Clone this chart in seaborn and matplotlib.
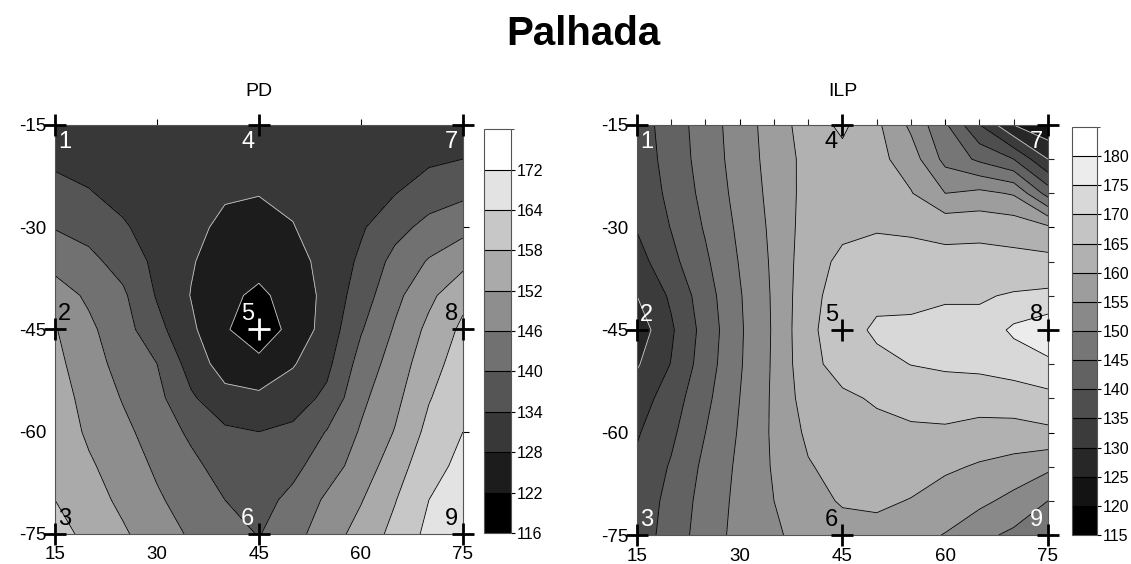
import numpy as np
import seaborn as sns
import matplotlib.pyplot as plt
from matplotlib.colors import ListedColormap, BoundaryNorm

xs = [15, 20, 25, 30, 35, 40, 45, 50, 55, 60, 65, 70, 75]
ys = [-15, -20, -25, -30, -35, -40, -45, -50, -55, -60, -65, -70, -75]

# PD surface, rows follow ys, columns follow xs
pd_grid = [
    [131, 131, 130.8, 130.5, 130.2, 130, 129.8, 130, 130.2, 130.5, 131, 131.5, 132],
    [133, 132.3, 131.5, 130.8, 130, 129.3, 129, 129.8, 130.5, 131.2, 132.2, 133, 134],
    [135.8, 134.3, 132.5, 131.2, 129.7, 128.5, 128.2, 129, 130.8, 132.2, 133.8, 137, 138.8],
    [139.7, 138, 134.6, 131.8, 129.2, 127, 126, 127.8, 130.5, 133.3, 137.9, 141.9, 144.1],
    [144, 141.5, 137.8, 132.5, 128.5, 125, 123.8, 125.8, 130, 135, 141.9, 146.5, 150.2],
    [148.8, 145, 141, 133.5, 127.8, 123.2, 121, 124, 129.8, 137, 144.4, 150.6, 156.4],
    [152.4, 147.2, 142.4, 135.9, 129.2, 122.6, 118.5, 123.8, 130.5, 139.5, 146.6, 153.5, 159.2],
    [153.6, 148.6, 143.8, 140, 131.6, 125.2, 123.5, 127.5, 132.5, 142.3, 148.6, 155.6, 160.9],
    [154.7, 150, 145.6, 141.7, 134.8, 130, 129.2, 131.2, 135.3, 144.6, 150.4, 157.6, 162.4],
    [155.8, 151, 147.4, 143.4, 138.9, 135, 134, 135.2, 140.3, 146.6, 152.3, 159.7, 164],
    [157, 152.8, 149.1, 145.1, 141.5, 137.5, 136.2, 138.4, 143.2, 148.6, 155.2, 161.9, 165.5],
    [158, 154.5, 150.7, 146.8, 143.4, 140, 138, 141.5, 147, 151.6, 157.7, 164, 166.8],
    [160, 156.6, 152.8, 148.8, 145.3, 142.6, 139.7, 144, 149, 154.3, 159.7, 165.5, 168],
]

# ILP surface
ilp_grid = [
    [137.5, 142.4, 147.5, 152.5, 157.3, 162.5, 166, 161, 154, 145.8, 135.2, 125, 121],
    [137, 142, 147.2, 152.2, 157, 161.6, 163.5, 161.5, 157.5, 148.5, 144, 140, 130],
    [136.3, 141.3, 146.5, 151.7, 156.6, 161.8, 163, 162.8, 160.3, 155, 156.3, 154.5, 143],
    [135.3, 140.2, 145.5, 151, 156.2, 162.3, 164, 164.7, 164.4, 163.5, 163.5, 163, 161],
    [133, 138.6, 144.2, 150.3, 155.9, 163, 166, 166.5, 166.5, 166.5, 166.8, 166.4, 166.5],
    [130, 135.8, 142.8, 149.6, 155.7, 163.6, 167, 168.5, 168.8, 169.4, 169.5, 170.5, 171],
    [127, 134.3, 142, 149.3, 155.6, 164, 167.5, 171, 171, 171.8, 171.5, 176, 178.5],
    [129.5, 135.2, 142.6, 149.5, 155.7, 163.6, 166.8, 168.5, 170.1, 170.7, 171, 172, 174],
    [132.5, 137.5, 143.8, 150, 155.8, 162.5, 164.2, 165.5, 166.7, 167.5, 167.5, 167.8, 168.5],
    [134.5, 139, 145, 150.5, 155.8, 161, 163, 163.8, 164.2, 164.2, 163, 163, 164],
    [136, 140.5, 146.2, 151, 155.5, 159.6, 161.8, 162.5, 162, 160.8, 159.5, 158.2, 156],
    [137, 141.5, 147, 151.3, 155, 158.2, 160.5, 160.8, 159.8, 157.7, 156.2, 153.5, 150],
    [137.5, 142, 147.6, 151.5, 154.3, 156.8, 158, 158.5, 156.5, 154.8, 151.3, 149, 147],
]

pd_levels = [116, 122, 128, 134, 140, 146, 152, 158, 164, 172, 178]
ilp_levels = [115, 120, 125, 130, 135, 140, 145, 150, 155, 160, 165, 170, 175, 180, 185]

# sampling points
pts_x = [15, 15, 15, 45, 45, 45, 75, 75, 75]
pts_y = [-15, -45, -75, -15, -45, -75, -15, -45, -75]
pts_lab = ['1', '2', '3', '4', '5', '6', '7', '8', '9']
pd_lab_col = ['white', 'black', 'black', 'white', 'white', 'white', 'white', 'black', 'black']
ilp_lab_col = ['white', 'white', 'white', 'black', 'black', 'black', 'white', 'black', 'white']
pd_cross_col = ['black', 'black', 'black', 'black', 'white', 'black', 'black', 'black', 'black']

sns.set_style("white")
plt.rcParams['font.family'] = ['Liberation Sans', 'DejaVu Sans']
plt.rcParams['text.color'] = 'black'
plt.rcParams['axes.unicode_minus'] = False

fig = plt.figure(figsize=(11.31, 5.64), dpi=100)

panels = [
    ("PD", pd_grid, pd_levels, pd_lab_col, pd_cross_col,
     [0.0486, 0.0532, 0.3607, 0.7252], [0.428, 0.055, 0.0239, 0.716], False),
    ("ILP", ilp_grid, ilp_levels, ilp_lab_col, ['black'] * 9,
     [0.5632, 0.0514, 0.3634, 0.727], [0.9478, 0.0514, 0.0221, 0.7234], True),
]

for name, grid, levels, lab_col, cross_col, rect, crect, minor in panels:
    ax = fig.add_axes(rect)
    cax = fig.add_axes(crect)
    n = len(levels) - 1
    shades = [i / (n - 1) for i in range(n)]
    cmap = ListedColormap([plt.cm.gray(s) for s in shades])
    norm = BoundaryNorm(levels, n)
    Z = np.array(grid)
    cf = ax.contourf(xs, ys, Z, levels=levels, cmap=cmap, norm=norm)
    # lines in the darkest bands come out light, as in the original
    line_cols = ['#c8c8c8' if s < 0.2 else 'black' for s in [0] + shades[:-1]]
    cs = ax.contour(xs, ys, Z, levels=levels[:-1], colors=line_cols, linewidths=0.6)

    for i in range(9):
        sns.scatterplot(x=[pts_x[i]], y=[pts_y[i]], marker='+', s=240,
                        color=cross_col[i], linewidth=2, ax=ax, clip_on=False, zorder=5)
        dx = 7 if pts_x[i] == 15 else -8
        dy = -12 if pts_y[i] == -15 else 11
        ax.annotate(pts_lab[i], (pts_x[i], pts_y[i]), xytext=(dx, dy),
                    textcoords='offset points', ha='center', va='center',
                    fontsize=17, color=lab_col[i], zorder=6)

    ax.set_xlim(15, 75)
    ax.set_ylim(-75, -15)
    ax.set_xticks([15, 30, 45, 60, 75])
    ax.set_yticks([-15, -30, -45, -60, -75])
    ax.tick_params(which='major', direction='out', length=4, width=0.8, labelsize=13.5,
                   pad=2, top=True, right=True, colors='black')
    ax.tick_params(axis='x', pad=5)
    if minor:
        ax.set_xticks(np.arange(20, 75, 5), minor=True)
        ax.set_yticks(np.arange(-70, -15, 5), minor=True)
        ax.tick_params(which='minor', direction='out', length=4, width=0.8,
                       top=True, right=True, bottom=False, left=False)
    for sp in ax.spines.values():
        sp.set_linewidth(0.8)
        sp.set_color('#555555')
    ax.set_title(name, fontsize=14, pad=21)

    cb = fig.colorbar(cf, cax=cax, ticks=levels[:-1])
    cb.ax.set_yticklabels([str(v) for v in levels[:-1]])
    cb.add_lines(levels[1:-1], ['black'] * (n - 1), [0.8] * (n - 1))
    cb.ax.tick_params(length=3, width=0.8, labelsize=11.5, pad=1, colors='black')
    cb.outline.set_linewidth(0.8)
    cb.outline.set_edgecolor('#555555')

fig.text(0.516, 0.94, "Palhada", ha='center', va='center', fontsize=29, fontweight='bold')

fig.savefig("out.png", dpi=100)
